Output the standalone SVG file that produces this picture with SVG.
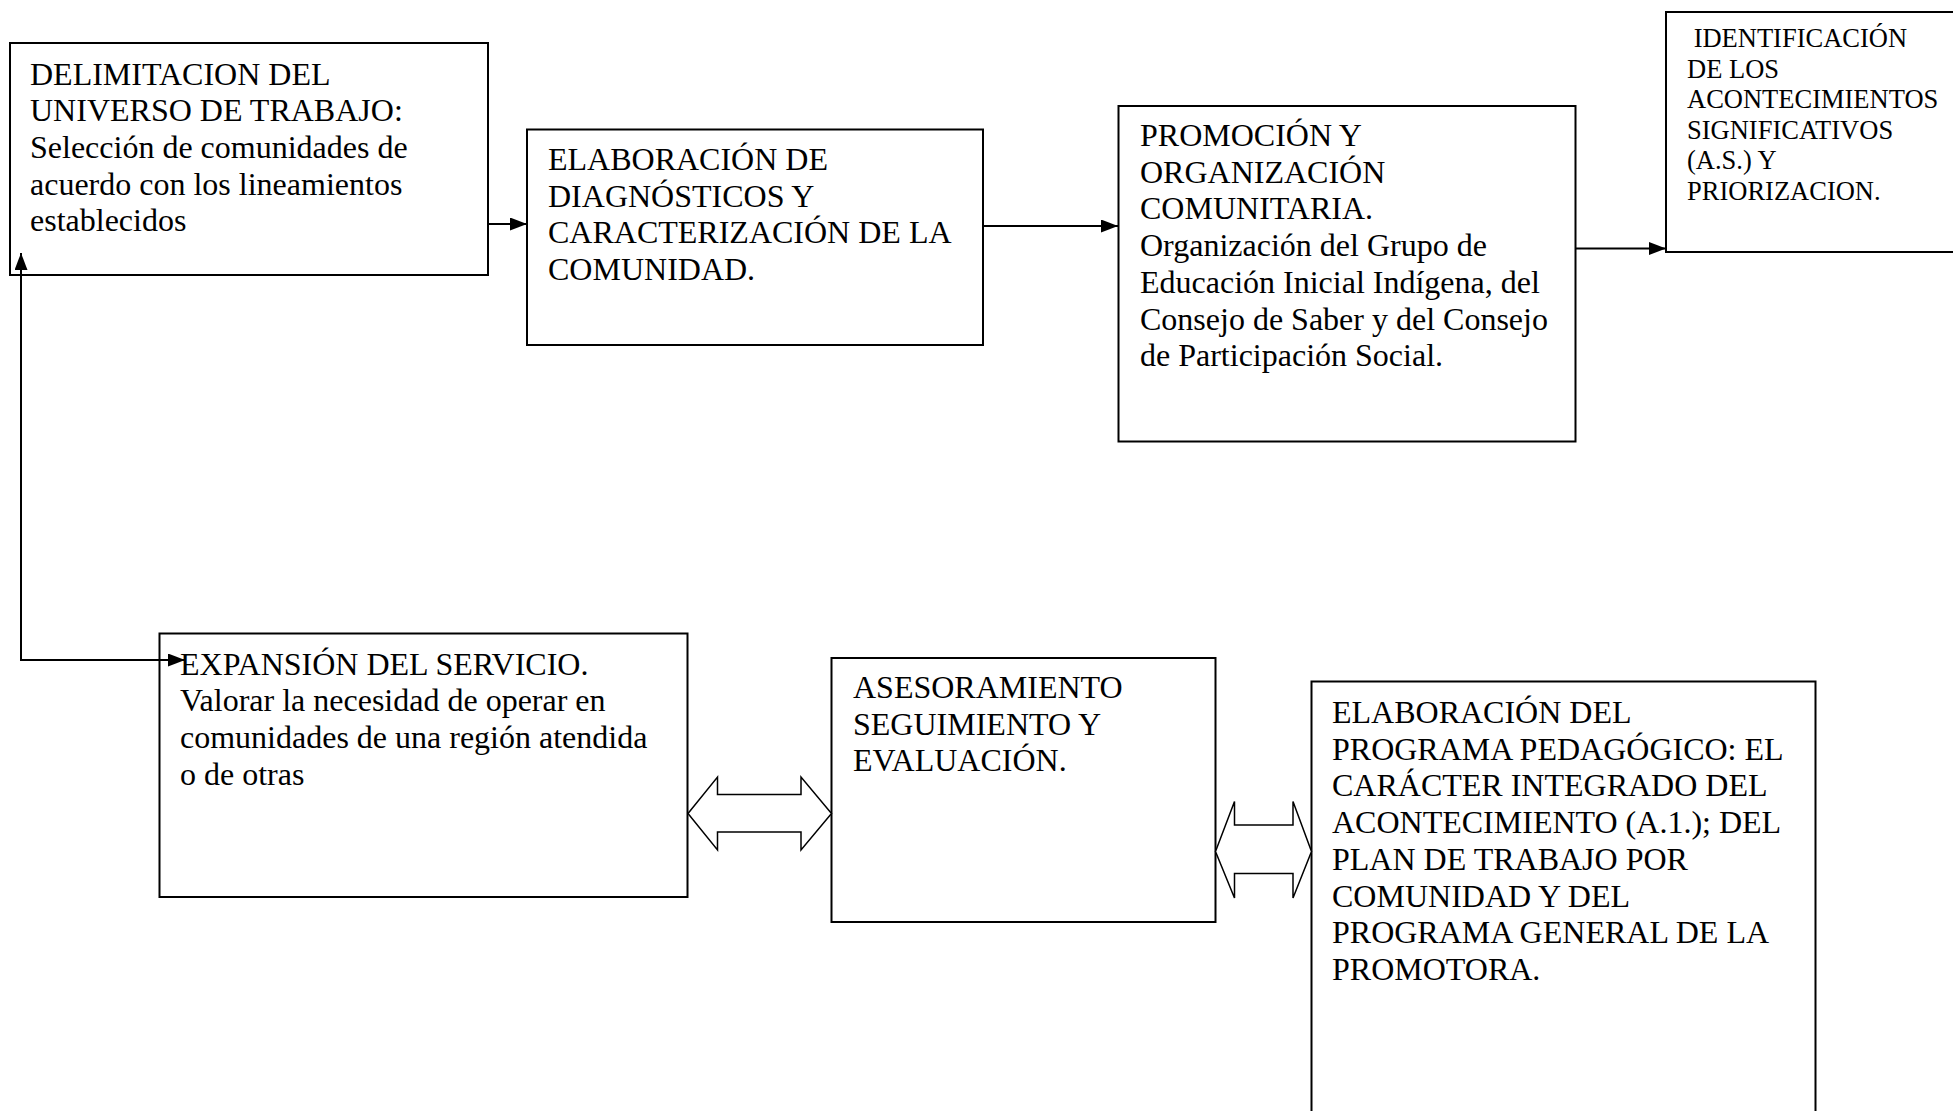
<svg xmlns="http://www.w3.org/2000/svg" width="1953" height="1111" viewBox="0 0 1953 1111">
<style>
.box{fill:#fff;stroke:#000;stroke-width:2}
.t{font-family:"Liberation Serif","Times New Roman",serif;font-size:32px;fill:#000}
.s{font-family:"Liberation Serif","Times New Roman",serif;font-size:26.5px;fill:#000}
.ln{fill:none;stroke:#000;stroke-width:2}
.blk{fill:#fff;stroke:#000;stroke-width:1.5;stroke-linejoin:miter}
</style>
<defs>
<marker id="ah" markerUnits="userSpaceOnUse" markerWidth="18" markerHeight="14" refX="17" refY="6.5" orient="auto-start-reverse">
<path d="M0,0 L17,6.5 L0,13 z" fill="#000"/>
</marker>
</defs>
<rect width="1953" height="1111" fill="#fff"/>
<g id="n1">
<rect class="box" x="10" y="43" width="478" height="232"/>
<text class="t" x="30" y="84.5">DELIMITACION DEL</text>
<text class="t" x="30" y="121">UNIVERSO DE TRABAJO:</text>
<text class="t" x="30" y="158">Selección de comunidades de</text>
<text class="t" x="30" y="194.5">acuerdo con los lineamientos</text>
<text class="t" x="30" y="231">establecidos</text>
</g>
<g id="n2">
<rect class="box" x="527" y="129.5" width="456" height="215.5"/>
<text class="t" x="548" y="170">ELABORACIÓN DE</text>
<text class="t" x="548" y="206.7">DIAGNÓSTICOS Y</text>
<text class="t" x="548" y="243.4">CARACTERIZACIÓN DE LA</text>
<text class="t" x="548" y="280">COMUNIDAD.</text>
</g>
<g id="n3">
<rect class="box" x="1118.5" y="106" width="457" height="335.5"/>
<text class="t" x="1140" y="146">PROMOCIÓN Y</text>
<text class="t" x="1140" y="182.7">ORGANIZACIÓN</text>
<text class="t" x="1140" y="219.4">COMUNITARIA.</text>
<text class="t" x="1140" y="256">Organización del Grupo de</text>
<text class="t" x="1140" y="292.8">Educación Inicial Indígena, del</text>
<text class="t" x="1140" y="329.5">Consejo de Saber y del Consejo</text>
<text class="t" x="1140" y="366">de Participación Social.</text>
</g>
<g id="n4">
<rect class="box" x="1666" y="12" width="320" height="240"/>
<text class="s" x="1687" y="47" xml:space="preserve"> IDENTIFICACIÓN</text>
<text class="s" x="1687" y="77.5">DE LOS</text>
<text class="s" x="1687" y="108">ACONTECIMIENTOS</text>
<text class="s" x="1687" y="138.5">SIGNIFICATIVOS</text>
<text class="s" x="1687" y="169">(A.S.) Y</text>
<text class="s" x="1687" y="199.5">PRIORIZACION.</text>
</g>
<g id="n5">
<rect class="box" x="159.5" y="633.5" width="528" height="263.5"/>
<text class="t" x="180" y="674.5">EXPANSIÓN DEL SERVICIO.</text>
<text class="t" x="180" y="711.2">Valorar la necesidad de operar en</text>
<text class="t" x="180" y="748">comunidades de una región atendida</text>
<text class="t" x="180" y="784.6">o de otras</text>
</g>
<g id="n6">
<rect class="box" x="831.5" y="658" width="384" height="264"/>
<text class="t" x="853" y="698">ASESORAMIENTO</text>
<text class="t" x="853" y="734.7">SEGUIMIENTO Y</text>
<text class="t" x="853" y="771.4">EVALUACIÓN.</text>
</g>
<g id="n7">
<rect class="box" x="1311.5" y="681.5" width="504" height="460"/>
<text class="t" x="1332" y="723">ELABORACIÓN DEL</text>
<text class="t" x="1332" y="759.7">PROGRAMA PEDAGÓGICO: EL</text>
<text class="t" x="1332" y="796.4">CARÁCTER INTEGRADO DEL</text>
<text class="t" x="1332" y="833">ACONTECIMIENTO (A.1.); DEL</text>
<text class="t" x="1332" y="869.8">PLAN DE TRABAJO POR</text>
<text class="t" x="1332" y="906.5">COMUNIDAD Y DEL</text>
<text class="t" x="1332" y="943.2">PROGRAMA GENERAL DE LA</text>
<text class="t" x="1332" y="980">PROMOTORA.</text>
</g>
<g id="connectors">
<line class="ln" x1="488" y1="224" x2="527" y2="224" marker-end="url(#ah)"/>
<line class="ln" x1="983" y1="226" x2="1118" y2="226" marker-end="url(#ah)"/>
<line class="ln" x1="1576" y1="248.5" x2="1666" y2="248.5" marker-end="url(#ah)"/>
<polyline class="ln" points="21,253 21,660 185,660" marker-start="url(#ah)" marker-end="url(#ah)"/>
<polygon id="dbl1" class="blk" points="688,813.5 717.5,777 717.5,794.5 801,794.5 801,777 831.5,813.5 801,850 801,832 717.5,832 717.5,850"/>
<polygon id="dbl2" class="blk" points="1215.5,851.5 1234.5,801.5 1234.5,825 1293,825 1293,801.5 1311.5,851.5 1293,898 1293,873.5 1234.5,873.5 1234.5,898"/>
</g>
</svg>
